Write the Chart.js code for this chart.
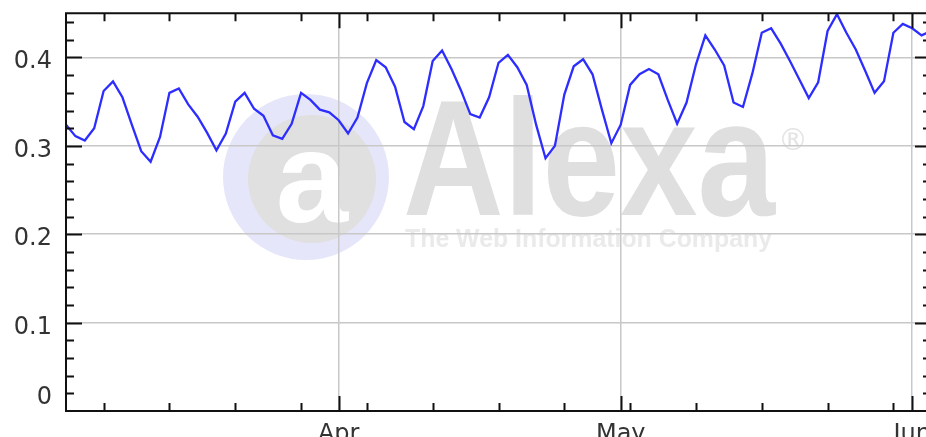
<!DOCTYPE html>
<html><head><meta charset="utf-8">
<script src="https://cdn.jsdelivr.net/npm/chart.js@4.4.1/dist/chart.umd.min.js"></script>
<style>
html,body{margin:0;padding:0;overflow:hidden;background:#fff;width:926px;height:437px;}
#wrap{position:absolute;left:0;top:-20px;width:960px;height:477px;}
</style></head><body>
<div id="wrap"><canvas id="c" width="960" height="477"></canvas></div>
<script>
// ---- data ----
const startDate = '2010-03-03';
const reach = [
  0.324, 0.311, 0.306, 0.320, 0.362, 0.373, 0.355, 0.324, 0.294, 0.282,
  0.310, 0.360, 0.365, 0.347, 0.333, 0.315, 0.295, 0.314, 0.350, 0.360,
  0.342, 0.334, 0.312, 0.308, 0.325, 0.360, 0.352, 0.341, 0.338, 0.329,
  0.314, 0.332, 0.371, 0.397, 0.389, 0.367, 0.327, 0.319, 0.345, 0.396,
  0.408, 0.387, 0.363, 0.336, 0.332, 0.355, 0.394, 0.403, 0.389, 0.369,
  0.324, 0.286, 0.300, 0.358, 0.390, 0.398, 0.381, 0.341, 0.303, 0.324,
  0.369, 0.381, 0.387, 0.381, 0.352, 0.325, 0.349, 0.392, 0.425, 0.409,
  0.391, 0.349, 0.344, 0.382, 0.428, 0.433, 0.416, 0.396, 0.375, 0.354,
  0.372, 0.430, 0.449, 0.428, 0.409, 0.385, 0.360, 0.373, 0.428, 0.438,
  0.433, 0.425, 0.430
];
const xMinDate = '2010-03-03';
const xMaxDate = '2010-06-03';
const monthTickDates = ['2010-04-01', '2010-05-01', '2010-06-01'];
const monthTickLabels = ['Apr', 'May', 'Jun'];
const weekTickDates = ['2010-03-07','2010-03-14','2010-03-21','2010-03-28','2010-04-04','2010-04-11',
  '2010-04-18','2010-04-25','2010-05-02','2010-05-09','2010-05-16','2010-05-23','2010-05-30'];
const yGridValues = [0.1, 0.2, 0.3, 0.4];
const yLabelValues = [0.02, 0.1, 0.2, 0.3, 0.4];
const yLabelTexts = ['0', '0.1', '0.2', '0.3', '0.4'];
const yMin = 0, yMax = 0.45, yMinorStep = 0.02;

// ---- helpers ----
const DAY = 86400000;
function dayIndex(s) { return (Date.parse(s + 'T00:00:00Z') - Date.parse(startDate + 'T00:00:00Z')) / DAY; }
const points = reach.map((v, i) => ({ x: i, y: v }));

const OY = 20; // canvas is shifted up by this many px
const FONT = '24px "DejaVu Sans", Verdana, sans-serif';

const watermark = {
  id: 'watermark',
  beforeDraw(chart) {
    const ctx = chart.ctx;
    ctx.save();
    // circle logo
    ctx.fillStyle = '#e6e6fb';
    ctx.beginPath(); ctx.arc(306, 177 + OY, 83, 0, Math.PI * 2); ctx.fill();
    ctx.fillStyle = '#e0e0e0';
    ctx.beginPath(); ctx.arc(312, 179 + OY, 64, 0, Math.PI * 2); ctx.fill();
    ctx.fillStyle = '#ffffff';
    ctx.font = 'bold 130px "Liberation Sans", Arial, sans-serif';
    ctx.textAlign = 'center'; ctx.textBaseline = 'alphabetic';
    ctx.fillText('a', 312, 222 + OY);
    // Alexa
    ctx.textAlign = 'left';
    ctx.fillStyle = '#dfdfdf';
    ctx.font = 'bold 165px "Liberation Sans", Arial, sans-serif';
    let w = ctx.measureText('Alexa').width;
    ctx.save(); ctx.translate(403, 215 + OY); ctx.scale(372 / w, 1); ctx.fillText('Alexa', 0, 0); ctx.restore();
    ctx.fillStyle = '#e4e4e4';
    ctx.font = '30px "DejaVu Sans", sans-serif';
    ctx.fillText('\u00AE', 778, 150 + OY);
    ctx.fillStyle = '#eaeaea';
    ctx.font = 'bold 26px "Liberation Sans", Arial, sans-serif';
    w = ctx.measureText('The Web Information Company').width;
    ctx.save(); ctx.translate(405, 247 + OY); ctx.scale(367 / w, 1); ctx.fillText('The Web Information Company', 0, 0); ctx.restore();
    ctx.restore();
  }
};

const axesPlugin = {
  id: 'axesFrame',
  afterDraw(chart) {
    const { ctx, chartArea: a, scales: { x, y } } = chart;
    ctx.save();
    ctx.strokeStyle = '#111';
    ctx.lineWidth = 2;
    ctx.beginPath();
    ctx.rect(a.left, a.top, a.right - a.left, a.bottom - a.top);
    ctx.stroke();
    // y ticks (left & right)
    ctx.beginPath();
    const nMinor = Math.floor((yMax - yMin) / yMinorStep + 1e-6);
    for (let k = 1; k <= nMinor; k++) {
      const v = yMin + k * yMinorStep;
      if (v > yMax) break;
      const py = Math.round(y.getPixelForValue(v)) + 0.5;
      const major = yGridValues.some(g => Math.abs(g - v) < 1e-6);
      const len = major ? 16 : 8;
      ctx.moveTo(a.left, py); ctx.lineTo(a.left + len, py);
      ctx.moveTo(a.right, py); ctx.lineTo(a.right - len, py);
    }
    // x ticks (top & bottom)
    weekTickDates.forEach(d => {
      const px = Math.round(x.getPixelForValue(dayIndex(d))) + 0.5;
      ctx.moveTo(px, a.bottom); ctx.lineTo(px, a.bottom - 8);
      ctx.moveTo(px, a.top); ctx.lineTo(px, a.top + 8);
    });
    monthTickDates.forEach(d => {
      const px = Math.round(x.getPixelForValue(dayIndex(d))) + 0.5;
      ctx.moveTo(px, a.bottom); ctx.lineTo(px, a.bottom - 15);
      ctx.moveTo(px, a.top); ctx.lineTo(px, a.top + 15);
    });
    ctx.stroke();
    // labels
    ctx.fillStyle = '#333';
    ctx.font = FONT;
    ctx.textAlign = 'right';
    ctx.textBaseline = 'alphabetic';
    yLabelValues.forEach((v, i) => {
      ctx.fillText(yLabelTexts[i], a.left - 14, y.getPixelForValue(v) + 11);
    });
    ctx.textAlign = 'center';
    monthTickDates.forEach((d, i) => {
      ctx.fillText(monthTickLabels[i], x.getPixelForValue(dayIndex(d)), a.bottom + 30);
    });
    ctx.restore();
  }
};

new Chart(document.getElementById('c'), {
  type: 'line',
  data: {
    datasets: [{
      data: points,
      borderColor: '#2d2dff',
      borderWidth: 2.3,
      pointRadius: 0,
      tension: 0,
      fill: false
    }]
  },
  options: {
    responsive: false,
    animation: false,
    layout: { padding: { left: 66, top: 13.3 + OY, right: 29, bottom: 46 } },
    plugins: { legend: { display: false }, tooltip: { enabled: false }, title: { display: false } },
    scales: {
      x: {
        type: 'linear',
        min: dayIndex(xMinDate),
        max: dayIndex(xMaxDate),
        afterBuildTicks: s => { s.ticks = monthTickDates.map(d => ({ value: dayIndex(d) })); },
        afterFit: s => { s.height = 0; },
        ticks: { display: false },
        grid: { color: '#c8c8c8', lineWidth: 1.5, drawTicks: false },
        border: { display: false }
      },
      y: {
        type: 'linear',
        min: yMin,
        max: yMax,
        afterBuildTicks: s => { s.ticks = yGridValues.map(v => ({ value: v })); },
        afterFit: s => { s.width = 0; },
        ticks: { display: false },
        grid: { color: '#c8c8c8', lineWidth: 1.5, drawTicks: false },
        border: { display: false }
      }
    }
  },
  plugins: [watermark, axesPlugin]
});
</script></body></html>
